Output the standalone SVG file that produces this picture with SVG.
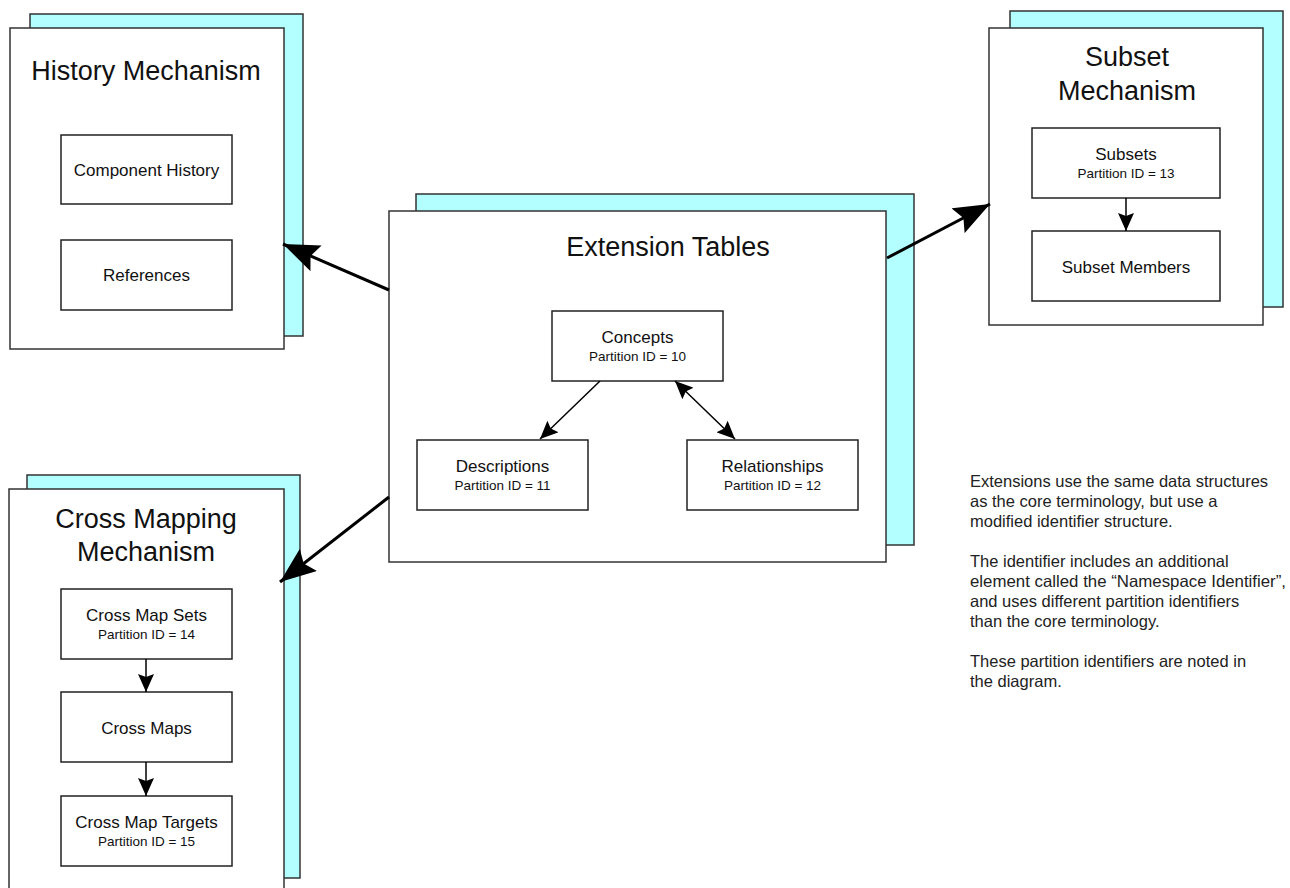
<svg xmlns="http://www.w3.org/2000/svg" width="1290" height="888" viewBox="0 0 1290 888">
  <style>
    .shadow { fill: #b3ffff; stroke: #333; stroke-width: 1.5; }
    .panel { fill: #fff; stroke: #333; stroke-width: 1.5; }
    .box { fill: #fff; stroke: #222; stroke-width: 1.5; }
    .title { font-family: "Liberation Sans", Arial, sans-serif; font-size: 27px; fill: #111; text-anchor: middle; }
    .label { font-family: "Liberation Sans", Arial, sans-serif; font-size: 17px; fill: #111; text-anchor: middle; }
    .sub { font-family: "Liberation Sans", Arial, sans-serif; font-size: 13.5px; fill: #111; text-anchor: middle; }
    .note { font-family: "Liberation Sans", Arial, sans-serif; font-size: 16.5px; fill: #222; }
    .big { stroke: #000; stroke-width: 3; fill: none; }
    .small { stroke: #000; stroke-width: 1.5; fill: none; }
  </style>
  <defs>
    <marker id="bigHead" markerUnits="userSpaceOnUse" markerWidth="38" markerHeight="28" refX="36" refY="14" orient="auto">
      <path d="M0,0 L36,14 L0,28 L6,14 Z" fill="#000"/>
    </marker>
    <marker id="smallHead" markerUnits="userSpaceOnUse" markerWidth="19" markerHeight="16" refX="18" refY="8" orient="auto">
      <path d="M0,0 L18,8 L0,16 L3,8 Z" fill="#000"/>
    </marker>
    <marker id="smallTail" markerUnits="userSpaceOnUse" markerWidth="19" markerHeight="16" refX="1" refY="8" orient="auto">
      <path d="M19,0 L1,8 L19,16 L16,8 Z" fill="#000"/>
    </marker>
  </defs>

  <!-- History mechanism -->
  <g id="history">
    <rect class="shadow" x="30" y="14" width="273" height="322"/>
    <rect class="panel" x="10" y="28" width="274" height="321"/>
    <text class="title" x="146" y="80">History Mechanism</text>
    <g id="component-history">
      <rect class="box" x="61" y="135" width="171" height="69"/>
      <text class="label" x="146.5" y="176">Component History</text>
    </g>
    <g id="references">
      <rect class="box" x="61" y="240" width="171" height="70"/>
      <text class="label" x="146.5" y="281">References</text>
    </g>
  </g>

  <!-- Extension tables -->
  <g id="extension">
    <rect class="shadow" x="416" y="194" width="498" height="351"/>
    <rect class="panel" x="389" y="211" width="497" height="351"/>
    <text class="title" x="668" y="256">Extension Tables</text>
    <g id="concepts">
      <rect class="box" x="552" y="311" width="171" height="70"/>
      <text class="label" x="637.5" y="343">Concepts</text>
      <text class="sub" x="637.5" y="361">Partition ID = 10</text>
    </g>
    <g id="descriptions">
      <rect class="box" x="417" y="440" width="171" height="70"/>
      <text class="label" x="502.5" y="472">Descriptions</text>
      <text class="sub" x="502.5" y="490">Partition ID = 11</text>
    </g>
    <g id="relationships">
      <rect class="box" x="687" y="440" width="171" height="70"/>
      <text class="label" x="772.5" y="472">Relationships</text>
      <text class="sub" x="772.5" y="490">Partition ID = 12</text>
    </g>
  </g>

  <!-- Subset mechanism -->
  <g id="subset">
    <rect class="shadow" x="1010" y="11" width="273" height="296"/>
    <rect class="panel" x="989" y="28" width="274" height="297"/>
    <text class="title" x="1127" y="66">Subset</text>
    <text class="title" x="1127" y="100">Mechanism</text>
    <g id="subsets">
      <rect class="box" x="1032" y="128" width="188" height="70"/>
      <text class="label" x="1126" y="160">Subsets</text>
      <text class="sub" x="1126" y="178">Partition ID = 13</text>
    </g>
    <g id="subset-members">
      <rect class="box" x="1032" y="231" width="188" height="70"/>
      <text class="label" x="1126" y="273">Subset Members</text>
    </g>
  </g>

  <!-- Cross mapping mechanism -->
  <g id="crossmap">
    <rect class="shadow" x="27" y="475" width="273" height="403"/>
    <rect class="panel" x="9" y="489" width="275" height="405"/>
    <text class="title" x="146" y="528">Cross Mapping</text>
    <text class="title" x="146" y="561">Mechanism</text>
    <g id="cross-map-sets">
      <rect class="box" x="61" y="589" width="171" height="70"/>
      <text class="label" x="146.5" y="621">Cross Map Sets</text>
      <text class="sub" x="146.5" y="639">Partition ID = 14</text>
    </g>
    <g id="cross-maps">
      <rect class="box" x="61" y="692" width="171" height="70"/>
      <text class="label" x="146.5" y="734">Cross Maps</text>
    </g>
    <g id="cross-map-targets">
      <rect class="box" x="61" y="796" width="171" height="70"/>
      <text class="label" x="146.5" y="828">Cross Map Targets</text>
      <text class="sub" x="146.5" y="846">Partition ID = 15</text>
    </g>
  </g>

  <!-- Connectors -->
  <g id="connectors">
    <line class="big" x1="389" y1="290" x2="283" y2="244" marker-end="url(#bigHead)"/>
    <line class="big" x1="887" y1="258" x2="990" y2="204" marker-end="url(#bigHead)"/>
    <line class="big" x1="389" y1="497" x2="280" y2="582" marker-end="url(#bigHead)"/>
    <line class="small" x1="600" y1="381" x2="540" y2="439" marker-end="url(#smallHead)"/>
    <line class="small" x1="675" y1="381" x2="735" y2="439" marker-start="url(#smallTail)" marker-end="url(#smallHead)"/>
    <line class="small" x1="1126" y1="198" x2="1126" y2="231" marker-end="url(#smallHead)"/>
    <line class="small" x1="146" y1="659" x2="146" y2="692" marker-end="url(#smallHead)"/>
    <line class="small" x1="146" y1="762" x2="146" y2="796" marker-end="url(#smallHead)"/>
  </g>

  <!-- Explanatory note -->
  <g id="note">
    <text class="note" x="970" y="487">Extensions use the same data structures</text>
    <text class="note" x="970" y="507">as the core terminology, but use a</text>
    <text class="note" x="970" y="527">modified identifier structure.</text>
    <text class="note" x="970" y="567">The identifier includes an additional</text>
    <text class="note" x="970" y="587" textLength="316" lengthAdjust="spacingAndGlyphs">element called the “Namespace Identifier”,</text>
    <text class="note" x="970" y="607">and uses different partition identifiers</text>
    <text class="note" x="970" y="627">than the core terminology.</text>
    <text class="note" x="970" y="667">These partition identifiers are noted in</text>
    <text class="note" x="970" y="687">the diagram.</text>
  </g>
</svg>
